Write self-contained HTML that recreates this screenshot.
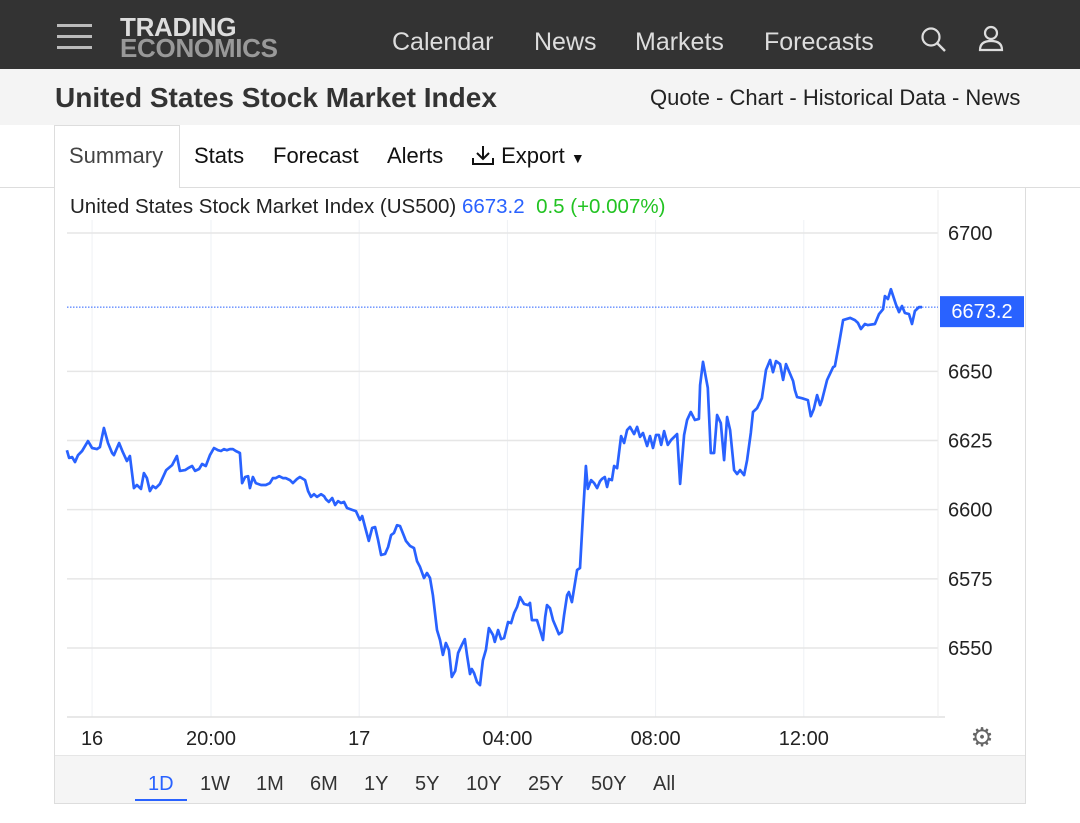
<!DOCTYPE html>
<html><head><meta charset="utf-8"><style>
*{margin:0;padding:0;box-sizing:border-box}
body{width:1080px;height:823px;background:#fff;font-family:"Liberation Sans",sans-serif;position:relative;overflow:hidden;color:#222}
.abs{position:absolute}
#nav{left:0;top:0;width:1080px;height:69px;background:#333}
.navlink{color:#ddd;font-size:25px;top:28px}
#sub{left:0;top:69px;width:1080px;height:56px;background:#f4f4f4}
.tab{font-size:22px;top:143px;color:#111}
.rng{font-size:20px;top:773px;color:#333}
</style></head><body>
<div id="nav" class="abs">
  <div class="abs" style="left:57px;top:22px;width:35px;height:28px">
    <div class="abs" style="left:0;top:2px;width:35px;height:3px;background:#bbb"></div>
    <div class="abs" style="left:0;top:13px;width:35px;height:3px;background:#bbb"></div>
    <div class="abs" style="left:0;top:24px;width:35px;height:3px;background:#bbb"></div>
  </div>
  <div class="abs" style="left:120px;top:17px;font-weight:bold;line-height:21px;font-size:26px;letter-spacing:-0.3px">
    <div style="color:#ddd">TRADING</div><div style="color:#999">ECONOMICS</div></div>
  <div class="abs navlink" style="left:392px">Calendar</div>
  <div class="abs navlink" style="left:534px">News</div>
  <div class="abs navlink" style="left:635px">Markets</div>
  <div class="abs navlink" style="left:764px">Forecasts</div>
  <svg class="abs" style="left:920px;top:26px" width="28" height="28"><circle cx="11" cy="11" r="8.5" fill="none" stroke="#ddd" stroke-width="2.2"/><line x1="17" y1="17" x2="25" y2="25" stroke="#ddd" stroke-width="2.4"/></svg>
  <svg class="abs" style="left:977px;top:25px" width="28" height="28"><circle cx="14" cy="8" r="6" fill="none" stroke="#ddd" stroke-width="2.2"/><path d="M3 25 Q3 16 14 16 Q25 16 25 25 Z" fill="none" stroke="#ddd" stroke-width="2.2"/></svg>
</div>
<div id="sub" class="abs">
  <div class="abs" style="left:55px;top:13px;font-size:28px;font-weight:bold;color:#333">United States Stock Market Index</div>
  <div class="abs" style="left:650px;top:16px;font-size:22px;color:#222">Quote - Chart - Historical Data - News</div>
</div>
<div class="abs" style="left:0;top:187px;width:1080px;height:1px;background:#ddd"></div>
<div class="abs" style="left:54px;top:125px;width:126px;height:63px;border:1px solid #ddd;border-bottom:none;background:#fff"></div>
<div class="abs tab" style="left:69px;color:#444">Summary</div>
<div class="abs tab" style="left:194px">Stats</div>
<div class="abs tab" style="left:273px">Forecast</div>
<div class="abs tab" style="left:387px">Alerts</div>
<div class="abs tab" style="left:471px">
  <svg width="24" height="22" style="vertical-align:-3px"><path d="M12 2 V15 M6 9 L12 15 L18 9 M2 14 V20 H22 V14" fill="none" stroke="#111" stroke-width="2"/></svg> Export <span style="font-size:14px">▼</span></div>
<div class="abs" style="left:54px;top:187px;width:972px;height:617px;border:1px solid #ddd;border-top:none"></div>
<div class="abs" style="left:55px;top:755px;width:970px;height:48px;background:#f5f5f5;border-top:1px solid #e6e6e6"></div>
<div class="abs rng" style="left:148px;color:#2962ff">1D</div>
<div class="abs" style="left:135px;top:799px;width:52px;height:2px;background:#2962ff"></div>
<div class="abs rng" style="left:200px">1W</div>
<div class="abs rng" style="left:256px">1M</div>
<div class="abs rng" style="left:310px">6M</div>
<div class="abs rng" style="left:364px">1Y</div>
<div class="abs rng" style="left:415px">5Y</div>
<div class="abs rng" style="left:466px">10Y</div>
<div class="abs rng" style="left:528px">25Y</div>
<div class="abs rng" style="left:591px">50Y</div>
<div class="abs rng" style="left:653px">All</div>
<div class="abs" style="left:70px;top:195px;font-size:20.5px;color:#222;white-space:nowrap">United States Stock Market Index (US500) <span style="color:#2962ff">6673.2</span>&nbsp; <span style="color:#22c322">0.5 (+0.007%)</span></div>
<svg id="chart" class="abs" style="left:0;top:0" width="1080" height="823"></svg>
<script>
const yTicks=[6550,6575,6600,6625,6650,6700];
const xTickHours=[16.79,20,24,28,32,36];
const xTickLabels=["16","20:00","17","04:00","08:00","12:00"];
const lastPrice=6673.2;
const times=[16.11,16.17,16.25,16.33,16.41,16.52,16.68,16.79,16.92,17.00,17.11,17.22,17.33,17.38,17.52,17.62,17.73,17.81,17.92,18.00,18.11,18.19,18.27,18.35,18.43,18.51,18.62,18.79,18.95,19.08,19.16,19.30,19.38,19.49,19.57,19.68,19.76,19.86,19.97,20.08,20.19,20.27,20.35,20.43,20.51,20.59,20.67,20.78,20.84,20.92,21.00,21.05,21.13,21.21,21.35,21.48,21.59,21.67,21.75,21.84,21.94,22.02,22.13,22.21,22.32,22.40,22.54,22.62,22.70,22.78,22.86,22.97,23.05,23.10,23.18,23.27,23.35,23.43,23.51,23.59,23.67,23.81,23.91,24.02,24.08,24.18,24.26,24.35,24.43,24.51,24.59,24.70,24.78,24.86,24.94,25.02,25.10,25.21,25.26,25.37,25.48,25.56,25.64,25.75,25.83,25.91,25.99,26.10,26.18,26.26,26.34,26.42,26.50,26.59,26.67,26.77,26.85,26.91,26.99,27.04,27.10,27.18,27.26,27.34,27.42,27.50,27.61,27.66,27.75,27.83,27.91,28.02,28.10,28.18,28.26,28.34,28.45,28.56,28.61,28.66,28.80,28.88,28.96,29.02,29.07,29.15,29.23,29.31,29.39,29.47,29.53,29.61,29.66,29.74,29.88,29.96,30.04,30.12,30.17,30.26,30.34,30.42,30.50,30.55,30.63,30.69,30.74,30.82,30.88,30.96,31.07,31.15,31.23,31.31,31.42,31.50,31.58,31.66,31.77,31.85,31.93,32.01,32.09,32.15,32.23,32.33,32.42,32.58,32.66,32.77,32.85,32.95,33.06,33.17,33.20,33.28,33.41,33.49,33.58,33.66,33.76,33.85,33.93,34.01,34.12,34.20,34.28,34.39,34.47,34.57,34.63,34.74,34.87,34.98,35.09,35.17,35.25,35.36,35.44,35.52,35.71,35.76,35.82,35.95,36.11,36.19,36.27,36.36,36.44,36.49,36.63,36.79,36.84,36.95,37.06,37.25,37.38,37.46,37.54,37.65,37.73,37.92,38.03,38.14,38.19,38.27,38.35,38.49,38.57,38.65,38.73,38.84,38.92,39.00,39.11,39.19];
const prices=[6621.5,6618.7,6619.0,6617.2,6619.7,6621.2,6624.8,6622.3,6621.9,6622.6,6629.5,6624.1,6620.5,6619.7,6624.1,6620.8,6617.6,6619.4,6607.8,6608.9,6607.5,6613.2,6611.4,6606.7,6608.5,6607.8,6609.3,6614.3,6616.1,6619.4,6614.0,6614.3,6615.0,6615.8,6614.0,6614.7,6616.5,6615.8,6619.7,6622.3,6621.5,6621.2,6621.9,6621.5,6621.9,6621.9,6621.2,6620.5,6609.6,6611.8,6612.1,6607.8,6611.8,6609.6,6608.9,6608.9,6609.6,6611.4,6611.4,6612.1,6611.4,6611.4,6610.7,6609.6,6611.1,6611.8,6610.7,6606.7,6604.6,6605.6,6604.6,6605.6,6604.9,6603.8,6602.8,6604.2,6601.7,6603.1,6602.4,6602.8,6600.6,6599.9,6599.5,6596.3,6597.7,6592.6,6588.7,6593.4,6593.7,6589.0,6583.6,6584.0,6586.5,6590.8,6591.6,6594.4,6594.1,6590.5,6588.7,6586.9,6586.1,6581.4,6579.3,6575.3,6577.1,6575.3,6569.1,6556.5,6552.9,6547.5,6551.8,6549.3,6539.5,6541.7,6548.2,6551.1,6553.2,6547.5,6540.6,6542.4,6540.9,6537.7,6536.6,6545.6,6549.3,6557.2,6554.7,6552.2,6556.5,6553.2,6553.6,6559.4,6559.0,6562.6,6564.8,6568.4,6565.9,6565.5,6566.3,6560.1,6560.1,6556.5,6552.9,6561.2,6565.5,6564.4,6560.1,6557.6,6555.0,6555.8,6561.9,6569.1,6570.2,6566.6,6578.2,6578.9,6598.1,6615.8,6607.5,6610.7,6609.6,6607.8,6610.3,6611.1,6611.8,6608.2,6611.1,6610.7,6615.8,6615.0,6626.6,6624.1,6628.8,6629.9,6627.3,6629.9,6626.3,6627.7,6623.0,6626.6,6622.3,6627.0,6627.0,6623.4,6628.4,6623.4,6625.2,6627.3,6609.3,6627.0,6632.4,6635.3,6632.4,6632.8,6645.0,6653.4,6644.0,6620.5,6620.5,6634.2,6631.3,6617.9,6633.5,6628.8,6614.3,6612.9,6614.3,6612.5,6617.9,6627.7,6635.3,6636.7,6640.3,6650.5,6654.1,6649.7,6653.7,6652.6,6646.9,6652.6,6646.5,6643.2,6640.7,6640.3,6639.6,6633.8,6636.4,6641.4,6637.8,6639.6,6646.9,6651.5,6651.9,6659.9,6668.5,6669.3,6668.5,6667.5,6665.3,6667.1,6666.7,6667.1,6670.7,6672.5,6677.2,6676.1,6679.7,6674.0,6671.4,6673.6,6671.1,6670.7,6667.1,6671.8,6673.2,6673.2];
const X=h=>211+(h-20)*37.05;
const Y=v=>233+(6700-v)/150*415;
const svg=document.getElementById('chart');
const NS='http://www.w3.org/2000/svg';
function mk(t,a){const e=document.createElementNS(NS,t);for(const k in a)e.setAttribute(k,a[k]);svg.appendChild(e);return e;}
xTickHours.forEach((h,i)=>{
  const l=mk('line',{x1:X(h),x2:X(h),y1:220,y2:717,stroke:'#eef1f4','stroke-width':1});
  
  
  const t=mk('text',{x:X(h),y:745,'text-anchor':'middle','font-size':20,fill:'#222','font-family':'Liberation Sans, sans-serif'});
  t.textContent=xTickLabels[i];
  
  
});
yTicks.forEach(v=>{
  const l=mk('line',{x1:67,x2:938,y1:Y(v),y2:Y(v),stroke:'#e6e6e6','stroke-width':1.5});
  
  
  const t=mk('text',{x:948,y:Y(v)+7,'font-size':20,fill:'#222','font-family':'Liberation Sans, sans-serif'});
  t.textContent=v;
  
  
});
const ax=mk('line',{x1:67,x2:945,y1:717,y2:717,stroke:'#e0e0e0','stroke-width':1.5});


const ay=mk('line',{x1:938,x2:938,y1:190,y2:717,stroke:'#eee','stroke-width':1});


const pl=mk('line',{x1:67,x2:938,y1:Y(lastPrice),y2:Y(lastPrice),stroke:'#2962ff','stroke-width':1,'stroke-dasharray':'1.5,1.5'});


const p=mk('path',{d:times.map((h,i)=>(i?'L':'M')+X(h).toFixed(1)+' '+Y(prices[i]).toFixed(1)).join(' '),fill:'none',stroke:'#2962ff','stroke-width':2.7,'stroke-linejoin':'round'});


const r=mk('rect',{x:940,y:Y(lastPrice)-11,width:84,height:31,fill:'#2962ff'});


const rt=mk('text',{x:982,y:Y(lastPrice)+11,'text-anchor':'middle','font-size':20,fill:'#fff','font-family':'Liberation Sans, sans-serif'});
rt.textContent=lastPrice.toFixed(1);


const g=mk('text',{x:982,y:746,'text-anchor':'middle','font-size':26,fill:'#666'});
g.textContent='⚙';


</script>
</body></html>
